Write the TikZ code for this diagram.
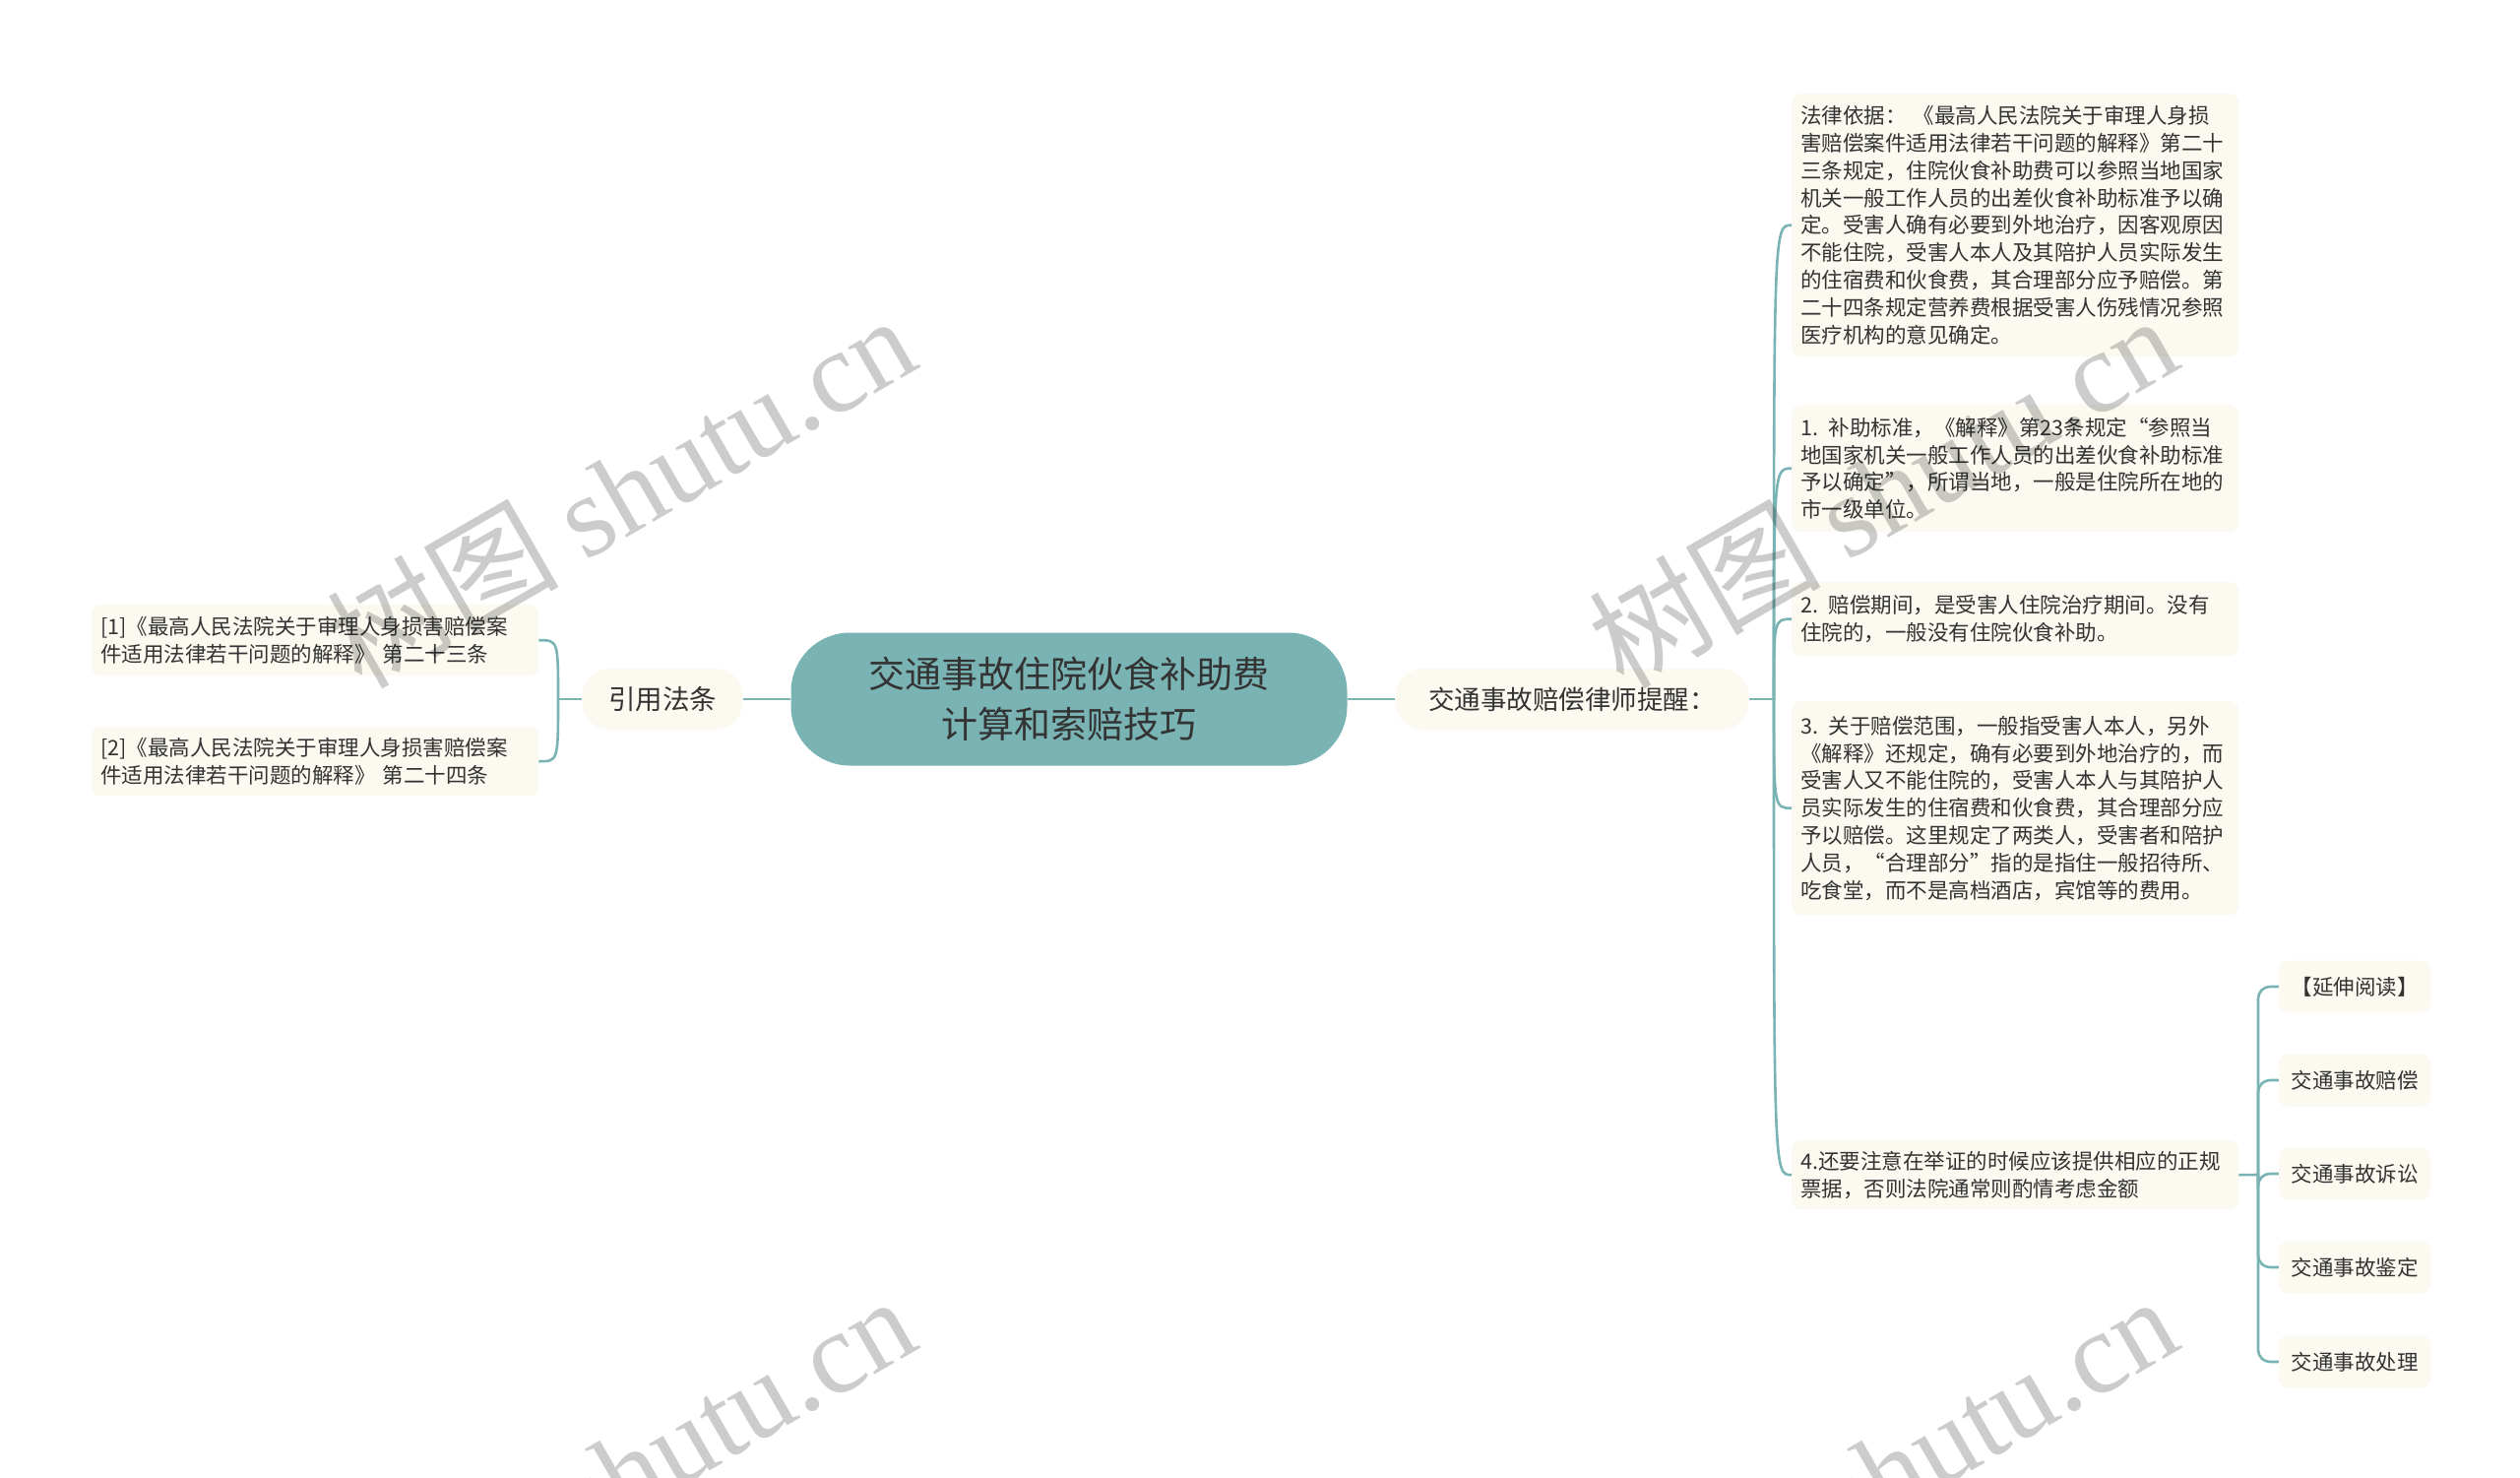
\documentclass[tikz,border=0pt]{standalone}
\usepackage{fontspec}
\setmainfont{Noto Sans CJK SC}
\newfontfamily\wmlatin{Liberation Serif}
\definecolor{teal1}{HTML}{7AB3B4}
\definecolor{leafbg}{HTML}{FBF9F0}
\definecolor{txt}{HTML}{333333}
\begin{document}
\begin{tikzpicture}[x=1pt,y=-1pt,
  conn/.style={draw=teal1, line width=2.6pt},
  leaf/.style={fill=leafbg, rounded corners=9pt, text=txt, align=left, text width=436pt,
    inner xsep=9pt, inner ysep=0pt, font={\fontsize{21.5pt}{27.8pt}\selectfont}, anchor=north west},
  small/.style={fill=leafbg, rounded corners=9pt, text=txt, minimum width=154pt, minimum height=53pt,
    inner sep=0pt, font={\fontsize{21.5pt}{26pt}\selectfont}},
  midnode/.style={fill=leafbg, rounded corners=28pt, text=txt, minimum height=62pt, inner sep=0pt},
  rootnode/.style={fill=teal1, rounded corners=60pt, text=txt, align=center, minimum width=565pt,
    minimum height=135pt, inner sep=0pt, font={\fontsize{37pt}{51pt}\selectfont}},
  wm/.style={text=black, text opacity=0.2, anchor=base west, rotate=30, inner sep=0pt,
    font={\fontsize{118pt}{118pt}\selectfont}}]
\useasboundingbox[fill=white] (0,0) rectangle (2560,1501);

% root and main branches
\node[rootnode] (root) at (1086,710) {交通事故住院伙食补助费\\计算和索赔技巧};
\node[midnode, minimum width=359pt, font={\fontsize{26.5pt}{30pt}\selectfont}] (tip) at (1597,710) {交通事故赔偿律师提醒：};
\node[midnode, minimum width=163pt, font={\fontsize{27.5pt}{30pt}\selectfont}] (cite) at (673,710) {引用法条};

% right leaves
\node[leaf, minimum height=267pt] (r1) at (1820,95) {法律依据： 《最高人民法院关于审理人身损\\害赔偿案件适用法律若干问题的解释》第二十\\三条规定，住院伙食补助费可以参照当地国家\\机关一般工作人员的出差伙食补助标准予以确\\定。受害人确有必要到外地治疗，因客观原因\\不能住院，受害人本人及其陪护人员实际发生\\的住宿费和伙食费，其合理部分应予赔偿。第\\二十四条规定营养费根据受害人伤残情况参照\\医疗机构的意见确定。};
\node[leaf, minimum height=129pt] (r2) at (1820,411) {1. 补助标准，《解释》第23条规定“参照当\\地国家机关一般工作人员的出差伙食补助标准\\予以确定”，所谓当地，一般是住院所在地的\\市一级单位。};
\node[leaf, minimum height=75pt] (r3) at (1820,591) {2. 赔偿期间，是受害人住院治疗期间。没有\\住院的，一般没有住院伙食补助。};
\node[leaf, minimum height=217pt] (r4) at (1820,712) {3. 关于赔偿范围，一般指受害人本人，另外\\《解释》还规定，确有必要到外地治疗的，而\\受害人又不能住院的，受害人本人与其陪护人\\员实际发生的住宿费和伙食费，其合理部分应\\予以赔偿。这里规定了两类人，受害者和陪护\\人员，“合理部分”指的是指住一般招待所、\\吃食堂，而不是高档酒店，宾馆等的费用。};
\node[leaf, minimum height=70pt] (r5) at (1820,1158) {4.还要注意在举证的时候应该提供相应的正规\\票据，否则法院通常则酌情考虑金额};

% small leaves
\node[small] (s1) at (2392,1002) {【延伸阅读】};
\node[small] (s2) at (2392,1097) {交通事故赔偿};
\node[small] (s3) at (2392,1192) {交通事故诉讼};
\node[small] (s4) at (2392,1287) {交通事故鉴定};
\node[small] (s5) at (2392,1383) {交通事故处理};

% left leaves
\node[leaf, minimum height=72pt] (l1) at (93,614) {[1]《最高人民法院关于审理人身损害赔偿案\\件适用法律若干问题的解释》 第二十三条};
\node[leaf, minimum height=70pt] (l2) at (93,738) {[2]《最高人民法院关于审理人身损害赔偿案\\件适用法律若干问题的解释》 第二十四条};

% connectors
\coordinate (rs) at (1802,710);
\coordinate (ls) at (567,710);
\coordinate (bs) at (2294,1193);
\draw[conn] (root.east) -- (tip.west);
\draw[conn] (root.west) -- (cite.east);
\draw[conn] (tip.east) -- (rs);
\foreach \n in {r1,r2,r3,r4,r5}
  \draw[conn] (rs) .. controls (rs |- \n.west) .. (\n.west);
\draw[conn] (cite.west) -- (ls);
\foreach \n in {l1,l2}
  \draw[conn] (ls) .. controls (ls |- \n.east) .. (\n.east);
\draw[conn] (r5.east) -- (bs);
\foreach \n in {s1,s2,s3,s4,s5}
  \draw[conn, rounded corners=12pt] (bs) |- (\n.west);

% watermarks
\begin{scope}
\clip (0,0) rectangle (2560,1501);
\node[wm] (w1) at (367,702) {树图 {\wmlatin shutu.cn}};
\node[wm] (w2) at (1649,702) {树图 {\wmlatin shutu.cn}};
\node[wm] (w3) at (367,1698) {树图 {\wmlatin shutu.cn}};
\node[wm] (w4) at (1649,1698) {树图 {\wmlatin shutu.cn}};
\end{scope}
\end{tikzpicture}
\end{document}
